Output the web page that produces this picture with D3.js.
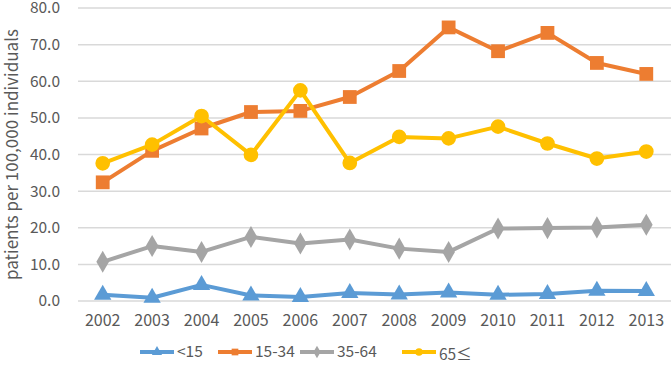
<!DOCTYPE html>
<html>
<head>
<meta charset="utf-8">
<script src="https://cdn.jsdelivr.net/npm/d3@7"></script>
<style>
  body { margin: 0; background: #fff; }
  svg { display: block; font-family: "Noto Sans CJK KR", "Noto Sans", sans-serif; }
</style>
</head>
<body>
<svg id="drawing_region"></svg>
<script>
const years = ["2002","2003","2004","2005","2006","2007","2008","2009","2010","2011","2012","2013"];
const under15 = [1.7, 0.9, 4.4, 1.5, 1.1, 2.2, 1.8, 2.3, 1.7, 1.9, 2.8, 2.7];
const age15_34 = [32.4, 41.0, 47.1, 51.6, 51.9, 55.7, 62.8, 74.7, 68.2, 73.2, 65.0, 62.0];
const age35_64 = [10.7, 15.0, 13.4, 17.5, 15.7, 16.8, 14.3, 13.4, 19.8, 19.9, 20.1, 20.8];
const age65 = [37.6, 42.7, 50.5, 39.9, 57.5, 37.7, 44.8, 44.4, 47.6, 43.0, 38.9, 40.8];
const yTicks = [0, 10, 20, 30, 40, 50, 60, 70, 80];

const series = [
  {name: "<15", values: under15, color: "#5B9BD5", symbol: d3.symbolTriangle, size: 130},
  {name: "15-34", values: age15_34, color: "#ED7D31", symbol: d3.symbolSquare, size: 190},
  {name: "35-64", values: age35_64, color: "#A5A5A5", symbol: d3.symbolDiamond, size: 140},
  {name: "65≤", values: age65, color: "#FFC000", symbol: d3.symbolCircle, size: 170}
];

const width = 671, height = 375;
const margin = {top: 8, right: 0, bottom: 74, left: 78};
const innerW = width - margin.left - margin.right;
const innerH = height - margin.top - margin.bottom;

const svg = d3.select('#drawing_region')
  .attr('width', width)
  .attr('height', height);

const chart = svg.append('g')
  .attr('transform', `translate(${margin.left}, ${margin.top})`);

const xscale = d3.scaleBand().domain(years).range([0, innerW]);
const yscale = d3.scaleLinear().domain([0, 80]).range([innerH, 0]);

// gridlines
chart.append('g')
  .selectAll('line')
  .data(yTicks)
  .join('line')
  .attr('x1', 0)
  .attr('x2', innerW)
  .attr('y1', d => yscale(d))
  .attr('y2', d => yscale(d))
  .attr('stroke', '#d9d9d9')
  .attr('stroke-width', 1.5);

// y axis labels
const yaxis = d3.axisLeft(yscale)
  .tickValues(yTicks)
  .tickFormat(d3.format('.1f'))
  .tickSize(0)
  .tickPadding(18);
chart.append('g')
  .call(yaxis)
  .call(g => g.select('.domain').remove())
  .call(g => g.selectAll('text')
    .attr('fill', '#595959')
    .attr('font-size', '15.5px')
    .attr('font-family', '"Noto Sans CJK KR", "Noto Sans", sans-serif'));

// x axis labels
const xaxis = d3.axisBottom(xscale).tickSize(0).tickPadding(14);
chart.append('g')
  .attr('transform', `translate(0, ${innerH})`)
  .call(xaxis)
  .call(g => g.select('.domain').remove())
  .call(g => g.selectAll('text')
    .attr('fill', '#595959')
    .attr('font-size', '16px')
    .attr('font-family', '"Noto Sans CJK KR", "Noto Sans", sans-serif'));

// y axis title
svg.append('text')
  .attr('transform', `translate(18, ${margin.top + innerH / 2}) rotate(-90)`)
  .attr('text-anchor', 'middle')
  .attr('fill', '#595959')
  .attr('font-size', '17px')
  .text('patients per 100,000 individuals');

const line = d3.line()
  .x((d, i) => xscale(years[i]) + xscale.bandwidth() / 2)
  .y(d => yscale(d));

const order = [2, 0, 1, 3];
order.forEach(k => {
  const s = series[k];
  const g = chart.append('g');
  g.append('path')
    .datum(s.values)
    .attr('d', line)
    .attr('fill', 'none')
    .attr('stroke', s.color)
    .attr('stroke-width', 4)
    .attr('stroke-linejoin', 'round');
  g.selectAll('path.mark')
    .data(s.values)
    .join('path')
    .attr('class', 'mark')
    .attr('d', d3.symbol().type(s.symbol).size(s.size))
    .attr('transform', (d, i) => `translate(${xscale(years[i]) + xscale.bandwidth() / 2}, ${yscale(d)})`)
    .attr('fill', s.color);
});

// legend
const legendX = [140, 218, 300, 402];
const legendY = 352;
const legend = svg.append('g');
series.forEach((s, i) => {
  const lg = legend.append('g').attr('transform', `translate(${legendX[i]}, ${legendY})`);
  lg.append('line')
    .attr('x1', 0).attr('x2', 34)
    .attr('y1', 0).attr('y2', 0)
    .attr('stroke', s.color)
    .attr('stroke-width', 4);
  lg.append('path')
    .attr('d', d3.symbol().type(s.symbol).size(45))
    .attr('transform', 'translate(17, 0)')
    .attr('fill', s.color);
  lg.append('text')
    .attr('x', 37)
    .attr('y', 0)
    .attr('dy', i === 3 ? '0.5em' : '0.35em')
    .attr('fill', '#595959')
    .attr('font-size', '15.5px')
    .text(s.name);
});
</script>
</body>
</html>
